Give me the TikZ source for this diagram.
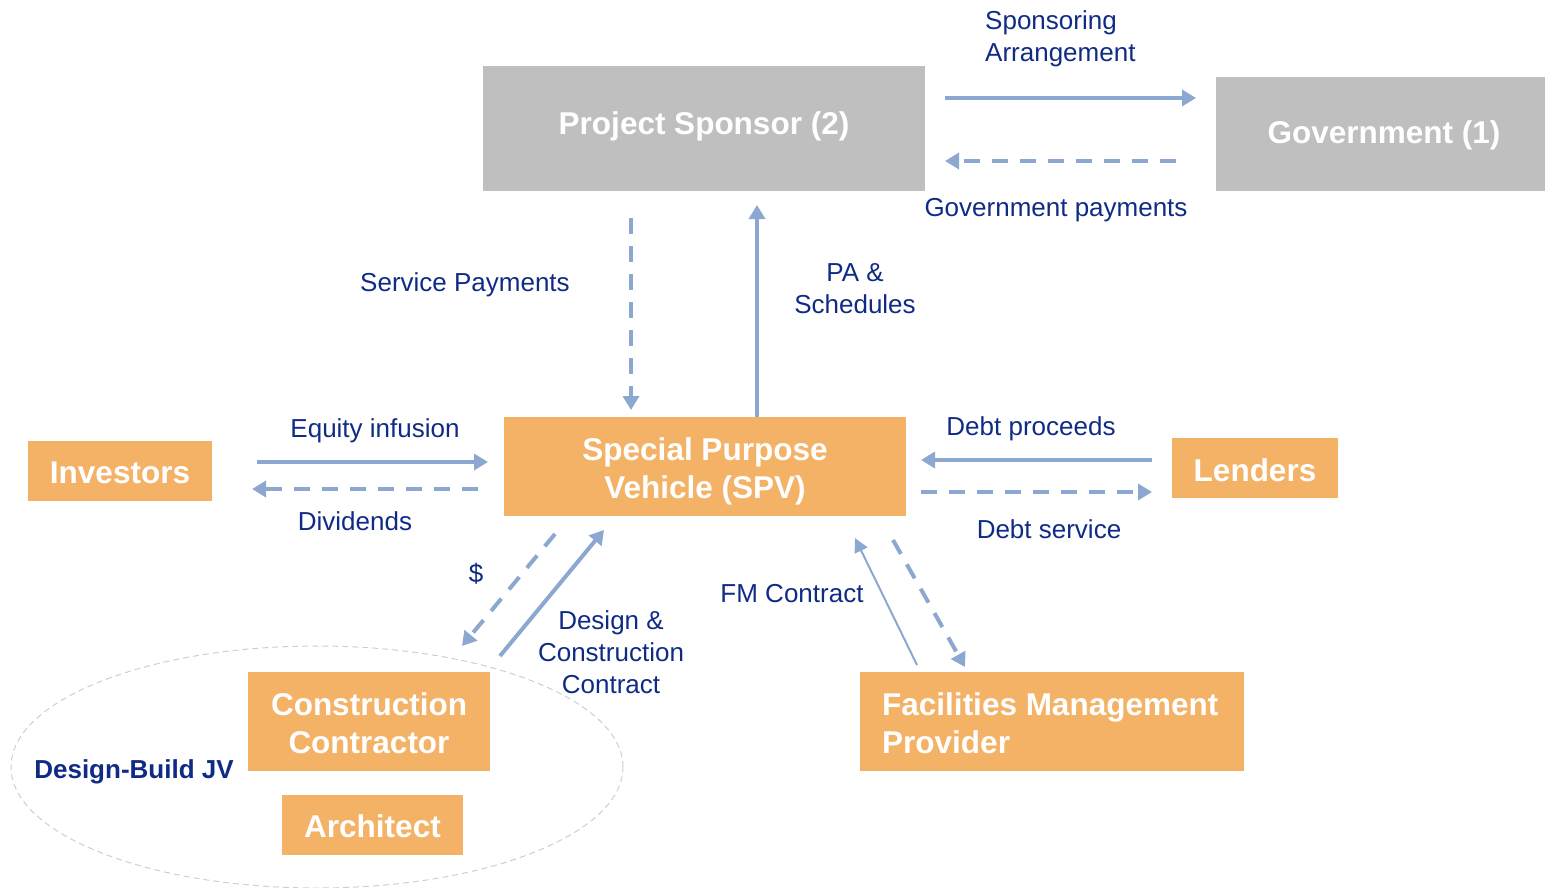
\documentclass[tikz,border=0pt]{standalone}
\usepackage{fontspec}
\setmainfont{Liberation Sans}
\usetikzlibrary{arrows.meta,shapes.geometric}
\definecolor{boxgray}{HTML}{BFBFBF}
\definecolor{boxorange}{HTML}{F4B266}
\definecolor{flow}{HTML}{8DA8D0}
\definecolor{navy}{HTML}{0F2B85}
\definecolor{ringline}{HTML}{C5CFDF}

\begin{document}
\begin{tikzpicture}[x=1pt,y=-1pt,
  box/.style={inner sep=0pt},
  graybox/.style={box, fill=boxgray},
  orangebox/.style={box, fill=boxorange},
  boxtext/.style={inner sep=0pt, font=\fontsize{31.5}{38}\selectfont\bfseries, text=white, align=center},
  lbl/.style={text=navy, font=\fontsize{26}{32}\selectfont, align=center, inner sep=0pt},
  flowline/.style={draw=flow, line width=4pt, -{Triangle[length=14pt,width=16pt]}},
  flowdash/.style={flowline, dash pattern=on 16pt off 12pt},
  flowthin/.style={draw=flow, line width=2pt, -{Triangle[length=14pt,width=14pt]}},
]
\useasboundingbox (0,0) rectangle (1545,888);

% design-build joint venture ring
\node[ellipse, draw=ringline, line width=1pt, dash pattern=on 6pt off 4pt,
      minimum width=612pt, minimum height=242pt, inner sep=0pt] (jv) at (317,767) {};

% parties
\node[graybox, minimum width=442pt, minimum height=125pt] (sponsor) at (704,128.5) {};
\node[graybox, minimum width=329pt, minimum height=114pt] (gov) at (1380.5,134) {};
\node[orangebox, minimum width=402pt, minimum height=99pt] (spv) at (705,466.5) {};
\node[orangebox, minimum width=184pt, minimum height=60pt] (inv) at (120,471) {};
\node[orangebox, minimum width=166pt, minimum height=60pt] (lend) at (1255,468) {};
\node[orangebox, minimum width=242pt, minimum height=99pt] (cc) at (369,721.5) {};
\node[orangebox, minimum width=181pt, minimum height=60pt] (arch) at (372.5,825) {};
\node[orangebox, minimum width=384pt, minimum height=99pt] (fm) at (1052,721.5) {};

% party names
\node[boxtext] (sponsortext) at (704,126.5) {Project Sponsor (2)};
\node[boxtext] (govtext) at (1384,135) {Government (1)};
\node[boxtext] (spvtext) at (705,471.5) {Special Purpose\\Vehicle (SPV)};
\node[boxtext] (invtext) at (120,473) {Investors};
\node[boxtext] (lendtext) at (1255,470) {Lenders};
\node[boxtext] (cctext) at (369,723.5) {Construction\\Contractor};
\node[boxtext] (archtext) at (372.5,826) {Architect};
\node[boxtext, align=left, anchor=west] (fmtext) at (882,723.5) {Facilities Management\\Provider};
\node[text=navy, font=\fontsize{26}{32}\selectfont\bfseries, inner sep=0pt] (jvlabel) at (134,772) {Design-Build JV};

% connector end points
\coordinate (sa1) at (945,98);   \coordinate (sa2) at (1196,98);
\coordinate (gp1) at (1176,161); \coordinate (gp2) at (945,161);
\coordinate (sp1) at (631,218);  \coordinate (sp2) at (631,410);
\coordinate (pa1) at (757,417);  \coordinate (pa2) at (757,205);
\coordinate (eq1) at (257,462);  \coordinate (eq2) at (488,462);
\coordinate (dv1) at (478,489);  \coordinate (dv2) at (252,489);
\coordinate (dp1) at (1152,460); \coordinate (dp2) at (921,460);
\coordinate (ds1) at (921,492);  \coordinate (ds2) at (1152,492);
\coordinate (py1) at (555,534);  \coordinate (py2) at (462,646);
\coordinate (dc1) at (500,656);  \coordinate (dc2) at (604,530);
\coordinate (fc1) at (917,665);  \coordinate (fc2) at (855,538);
\coordinate (fp1) at (893,540);  \coordinate (fp2) at (965,667);

% flows
\draw[flowline] (sa1) -- (sa2);
\draw[flowdash] (gp1) -- (gp2);
\draw[flowdash] (sp1) -- (sp2);
\draw[flowline] (pa1) -- (pa2);
\draw[flowline] (eq1) -- (eq2);
\draw[flowdash] (dv1) -- (dv2);
\draw[flowline] (dp1) -- (dp2);
\draw[flowdash] (ds1) -- (ds2);
\draw[flowdash] (py1) -- (py2);
\draw[flowline] (dc1) -- (dc2);
\draw[flowthin] (fc1) -- (fc2);
\draw[flowdash] (fp1) -- (fp2);

% flow labels
\node[lbl, align=left, anchor=west] (lsa) at (985,39) {Sponsoring\\Arrangement};
\node[lbl] (lgp) at (1056,210) {Government payments};
\node[lbl] (lsp) at (465,285) {Service Payments};
\node[lbl] (lpa) at (855,289) {PA \&\\Schedules};
\node[lbl] (leq) at (375,431) {Equity infusion};
\node[lbl] (ldv) at (355,521) {Dividends};
\node[lbl] (ldp) at (1031,429) {Debt proceeds};
\node[lbl] (lds) at (1049,529) {Debt service};
\node[lbl] (lpy) at (476,574) {\$};
\node[lbl] (ldc) at (611,652) {Design \&\\Construction\\Contract};
\node[lbl] (lfm) at (792,594) {FM Contract};
\end{tikzpicture}
\end{document}
